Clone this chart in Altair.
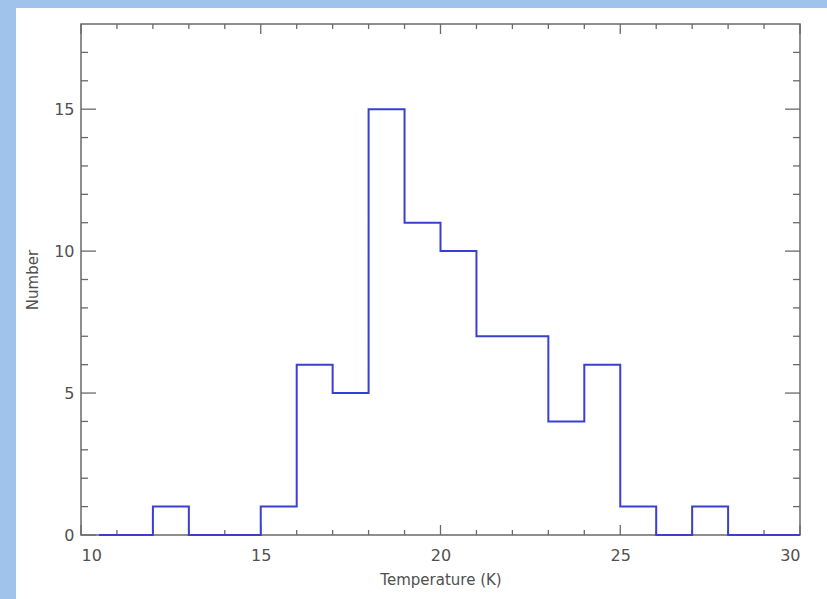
import altair as alt
import pandas as pd

# Histogram data (bin left edges and counts; final edge closes the step)
bin_edges = [10.5, 12, 13, 15, 16, 17, 18, 19, 20, 21, 23, 24, 25, 26, 27, 28, 30]
counts    = [0,    1,  0,  1,  6,  5,  15, 11, 10, 7,  4,  6,  1,  0,  1,  0,  0]

x_major = [10, 15, 20, 25, 30]
x_minor = [v for v in range(11, 30) if v % 5 != 0]
y_major = [0, 5, 10, 15]
y_minor = [v for v in range(1, 18) if v % 5 != 0]

W, H = 719, 511
FONT = "DejaVu Sans"
AX = "#6a6a6a"
TXT = "#505050"

hist = pd.DataFrame({"edge": bin_edges, "count": counts})

xs = alt.Scale(domain=[10, 30], nice=False, zero=False)
ys = alt.Scale(domain=[0, 18], nice=False, zero=True)

line = alt.Chart(hist).mark_line(
    interpolate="step-after", color="#3a3fd4", strokeWidth=2
).encode(
    x=alt.X("edge:Q", scale=xs,
            axis=alt.Axis(values=x_major, ticks=False, domain=False, grid=False,
                          title="Temperature (K)", labelPadding=12, titlePadding=9,
                          format="d")),
    y=alt.Y("count:Q", scale=ys,
            axis=alt.Axis(values=y_major, ticks=False, domain=False, grid=False,
                          title="Number", labelPadding=7, titlePadding=13,
                          format="d")),
)

def xticks(vals, length):
    df = pd.DataFrame({"v": vals})
    bot = alt.Chart(df).mark_rule(color=AX, strokeWidth=1.3).encode(
        x=alt.X("v:Q", scale=xs), y=alt.value(H), y2=alt.value(H - length))
    top = alt.Chart(df).mark_rule(color=AX, strokeWidth=1.3).encode(
        x=alt.X("v:Q", scale=xs), y=alt.value(0), y2=alt.value(length))
    return [bot, top]

def yticks(vals, length):
    df = pd.DataFrame({"v": vals})
    left = alt.Chart(df).mark_rule(color=AX, strokeWidth=1.3).encode(
        y=alt.Y("v:Q", scale=ys), x=alt.value(0), x2=alt.value(length))
    right = alt.Chart(df).mark_rule(color=AX, strokeWidth=1.3).encode(
        y=alt.Y("v:Q", scale=ys), x=alt.value(W), x2=alt.value(W - length))
    return [left, right]

one = pd.DataFrame({"a": [0]})
BLUE = "#9fc3ea"
strip_left = alt.Chart(one).mark_rect(color=BLUE).encode(
    x=alt.value(-81), x2=alt.value(-65), y=alt.value(-24), y2=alt.value(H + 64))
strip_top = alt.Chart(one).mark_rect(color=BLUE).encode(
    x=alt.value(-81), x2=alt.value(W + 27), y=alt.value(-24), y2=alt.value(-16))

layers = [strip_left, strip_top] + xticks(x_major, 10) + xticks(x_minor, 5) \
    + yticks(y_major, 15) + yticks(y_minor, 7) + [line]

chart = alt.layer(*layers).properties(
    width=W, height=H,
    autosize=alt.AutoSizeParams(type="none"),
    padding={"left": 81, "top": 24, "right": 27, "bottom": 64},
    background="white",
).configure_view(
    stroke=AX, strokeWidth=1.5
).configure_axis(
    labelFont=FONT, titleFont=FONT, labelFontSize=16, titleFontSize=15,
    labelColor=TXT, titleColor=TXT, titleFontWeight="normal",
)

chart.save("out.html", embed_options={"renderer": "svg", "actions": False})
